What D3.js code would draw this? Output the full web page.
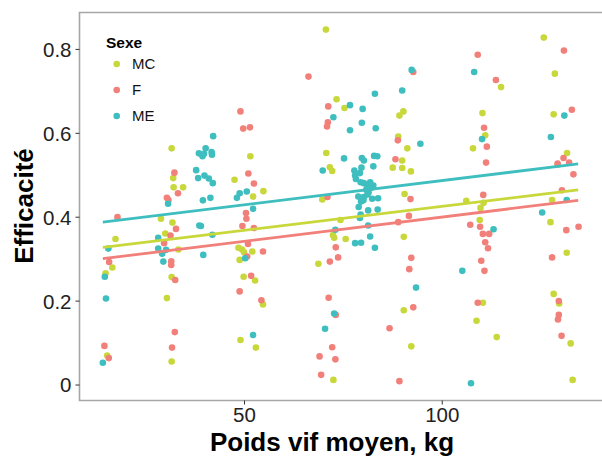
<!DOCTYPE html>
<html><head><meta charset="utf-8">
<script src="https://cdn.jsdelivr.net/npm/d3@7"></script>
<style>body{margin:0;background:#fff}svg{display:block}</style>
</head><body>
<svg id="c" width="602" height="457"></svg>
<script>
const seriesNames = ["MC", "F", "ME"];
const colors = {MC: "#C8D83A", F: "#F2807A", ME: "#3FBEBF"};
const xTicks = [50, 100];
const yTicks = [0, 0.2, 0.4, 0.6, 0.8];
const yTickLabels = ["0", "0.2", "0.4", "0.6", "0.8"];

// [poids vif (kg), efficacité]
const MC = [
 [15.4,0.069],[15.0,0.265],[16.7,0.279],[17.5,0.347],
 [31.7,0.563],[32.1,0.492],[32.2,0.470],[34.6,0.470],[29.0,0.395],[31.9,0.386],[30.1,0.360],[33.4,0.322],[31.7,0.256],[30.5,0.206],[31.7,0.055],
 [51.6,0.544],[47.6,0.488],[52.3,0.448],[54.9,0.461],[48.6,0.326],[49.5,0.322],[50.0,0.315],[52.1,0.317],[48.9,0.297],[49.9,0.257],[52.8,0.248],[54.8,0.191],[49.1,0.106],[53.0,0.088],
 [70.7,0.846],[73.4,0.680],[75.4,0.659],[70.8,0.552],[71.7,0.518],[72.3,0.509],[69.8,0.441],[74.4,0.392],[72.5,0.356],[72.8,0.350],[75.7,0.347],[68.8,0.288],[72.6,0.011],
 [89.3,0.641],[90.3,0.651],[89.0,0.591],[91.3,0.563],[90.0,0.534],[87.6,0.517],[90.0,0.516],[92.2,0.508],[90.6,0.454],[90.4,0.352],[90.4,0.177],[92.3,0.091],
 [115.0,0.709],[110.3,0.647],[111.0,0.594],[107.9,0.563],[106.2,0.438],[110.6,0.433],[109.8,0.421],[109.6,0.392],[110.4,0.195],[108.8,0.152],[113.9,0.113],
 [125.8,0.827],[128.6,0.741],[128.3,0.644],[131.7,0.552],[129.3,0.524],[127.9,0.440],[127.5,0.387],[131.6,0.314],[128.3,0.216],[129.7,0.193],[132.6,0.098],[133.1,0.011]
];
const F = [
 [14.7,0.092],[15.8,0.063],[15.9,0.292],[18.0,0.399],
 [32.4,0.505],[33.3,0.456],[30.5,0.445],[30.9,0.440],[32.8,0.371],[31.4,0.355],[29.8,0.337],[31.6,0.294],[31.6,0.285],[32.6,0.249],[32.5,0.125],[31.8,0.088],
 [49.1,0.651],[49.8,0.610],[51.5,0.613],[51.1,0.503],[52.5,0.479],[50.5,0.409],[50.6,0.395],[49.6,0.378],[52.5,0.373],[51.0,0.335],[54.8,0.317],[50.8,0.305],[51.8,0.259],[48.9,0.222],[54.4,0.201],
 [66.3,0.734],[71.3,0.663],[71.2,0.625],[71.0,0.615],[71.1,0.447],[73.2,0.327],[73.8,0.303],[71.7,0.293],[71.4,0.207],[73.2,0.166],[72.3,0.089],[69.1,0.067],[73.1,0.060],[69.5,0.023],
 [92.8,0.745],[88.9,0.582],[88.3,0.537],[92.1,0.442],[91.7,0.402],[89.0,0.387],[92.3,0.302],[91.8,0.275],[92.8,0.184],[86.8,0.134],[89.3,0.008],
 [109.1,0.786],[113.7,0.726],[110.7,0.612],[111.4,0.567],[111.2,0.529],[110.5,0.452],[107.2,0.381],[109.7,0.376],[110.4,0.359],[112.0,0.359],[111.0,0.339],[111.7,0.325],[110.0,0.295],[110.8,0.271],[109.1,0.195],
 [130.9,0.796],[132.9,0.655],[130.8,0.540],[129.3,0.527],[132.2,0.529],[133.3,0.501],[130.4,0.463],[131.5,0.368],[134.6,0.376],[127.9,0.303],[129.6,0.199],[129.6,0.166],[129.4,0.155],[130.3,0.116]
];
const ME = [
 [14.3,0.052],[15.1,0.205],[14.8,0.257],[15.7,0.324],
 [30.8,0.431],[28.3,0.350],[28.3,0.324],[30.3,0.321],[29.3,0.312],[29.6,0.293],
 [42.2,0.592],[40.3,0.563],[38.6,0.551],[39.5,0.544],[39.9,0.550],[41.8,0.554],[41.9,0.548],[37.9,0.511],[38.4,0.492],[40.0,0.498],[41.1,0.491],[42.1,0.480],[39.6,0.439],[41.5,0.445],[38.7,0.379],[39.1,0.378],[42.0,0.357],[39.7,0.309],
 [48.2,0.445],[48.9,0.456],[50.7,0.460],[52.3,0.419],[50.3,0.301],[52.3,0.118],
 [76.8,0.666],[72.6,0.637],[76.8,0.606],[75.3,0.539],[69.9,0.510],[73.1,0.369],[72.8,0.169],[70.5,0.133],
 [80.0,0.657],[79.8,0.624],[83.1,0.693],[83.3,0.611],[79.8,0.540],[80.3,0.534],[82.9,0.545],[83.7,0.544],[82.7,0.520],[77.9,0.510],[79.7,0.517],[78.1,0.498],[79.3,0.504],[78.3,0.490],[79.5,0.482],[80.3,0.480],[81.9,0.482],[81.2,0.472],[82.2,0.469],[82.7,0.474],[80.9,0.464],[81.5,0.458],[78.9,0.448],[80.3,0.447],[81.2,0.453],[82.4,0.443],[83.9,0.444],[79.6,0.436],[80.2,0.439],[79.0,0.423],[81.4,0.415],[83.8,0.417],[79.5,0.405],[79.3,0.397],[81.4,0.379],[81.9,0.353],[78.1,0.337],[79.6,0.338],[83.1,0.326],
 [90.0,0.701],[92.4,0.750],[94.6,0.574],[93.5,0.231],
 [108.2,0.745],[110.2,0.585],[113.1,0.370],[105.2,0.271],[107.4,0.003],
 [131.0,0.641],[127.6,0.590],[131.6,0.440],[125.4,0.410]
];
// fitted regression lines: [x, y] at ends
const fitMC = [[14.3,0.327],[134.5,0.464]];
const fitF  = [[14.3,0.300],[134.5,0.439]];
const fitME = [[14.3,0.387],[134.5,0.526]];

const data = {MC, F, ME};
const fits = {MC: fitMC, F: fitF, ME: fitME};

const svg = d3.select("#c");
const L = 79.5, T = 12.5, R = 601.5, B = 400.5;
const x = d3.scaleLinear().domain([8.4, 140.4]).range([L, R]);
const y = d3.scaleLinear().domain([-0.0381, 0.8868]).range([B, T]);

// panel border
svg.append("path")
  .attr("d", `M${R+4},${T}H${L}V${B}H${R+4}`)
  .attr("fill", "none").attr("stroke", "#A6A6A6").attr("stroke-width", 1.6);

// axes
const yAxis = d3.axisLeft(y).tickValues(yTicks).tickSize(4).tickPadding(4)
  .tickFormat((d, i) => yTickLabels[i]);
const gy = svg.append("g").attr("transform", `translate(${L},0)`).call(yAxis);
gy.select(".domain").remove();
gy.selectAll("line").attr("stroke", "#333");
gy.selectAll("text").attr("font-family", "Liberation Sans, Arial, sans-serif")
  .attr("font-size", 20.5).attr("fill", "#222").attr("dy", "0.36em");

const xAxis = d3.axisBottom(x).tickValues(xTicks).tickSize(4).tickPadding(3);
const gx = svg.append("g").attr("transform", `translate(0,${B})`).call(xAxis);
gx.select(".domain").remove();
gx.selectAll("line").attr("stroke", "#333");
gx.selectAll("text").attr("font-family", "Liberation Sans, Arial, sans-serif")
  .attr("font-size", 20.5).attr("fill", "#222");

// points
const order = ["MC", "F", "ME"];
order.forEach(s => {
  svg.append("g").selectAll("circle").data(data[s]).join("circle")
    .attr("cx", d => x(d[0])).attr("cy", d => y(d[1])).attr("r", 3.3)
    .attr("fill", colors[s]);
});

// fitted lines
const line = d3.line().x(d => x(d[0])).y(d => y(d[1]));
["F", "MC", "ME"].forEach(s => {
  svg.append("path").datum(fits[s]).attr("d", line)
    .attr("fill", "none").attr("stroke", colors[s]).attr("stroke-width", 2.8);
});

// axis titles
svg.append("text").attr("x", 332).attr("y", 451)
  .attr("text-anchor", "middle").attr("font-family", "Liberation Sans, Arial, sans-serif")
  .attr("font-weight", "bold").attr("font-size", 26).attr("fill", "#000")
  .text("Poids vif moyen, kg");
svg.append("text").attr("transform", "translate(33,206) rotate(-90)")
  .attr("text-anchor", "middle").attr("font-family", "Liberation Sans, Arial, sans-serif")
  .attr("font-weight", "bold").attr("font-size", 26).attr("fill", "#000")
  .text("Efficacité");

// legend
const lg = svg.append("g");
lg.append("text").attr("x", 106).attr("y", 48).attr("font-family", "Liberation Sans, Arial, sans-serif")
  .attr("font-weight", "bold").attr("font-size", 15.5).attr("fill", "#000").text("Sexe");
seriesNames.forEach((s, i) => {
  const cy = 64 + i * 26;
  lg.append("circle").attr("cx", 116.7).attr("cy", cy).attr("r", 3.3).attr("fill", colors[s]);
  lg.append("text").attr("x", 132).attr("y", cy + 5.2).attr("font-family", "Liberation Sans, Arial, sans-serif")
    .attr("font-size", 15).attr("fill", "#111").text(s);
});
</script>
</body></html>
